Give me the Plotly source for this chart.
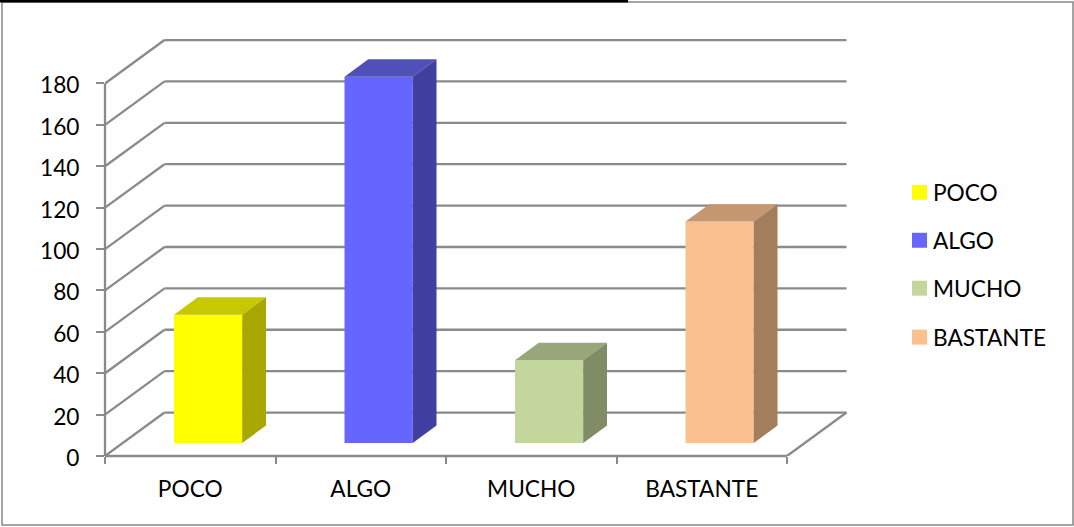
import plotly.graph_objects as go

categories = ["POCO", "ALGO", "MUCHO", "BASTANTE"]
values = [62, 177, 40, 107]
front_colors = ["#FFFF00", "#6666FF", "#C3D69B", "#FBC08F"]
top_colors = ["#C8C800", "#5050B8", "#98A679", "#C49672"]
side_colors = ["#A8A800", "#4040A0", "#7F8C65", "#A37D5C"]
y_ticks = list(range(0, 181, 20))

W, H = 1074, 527
L, R, T, B = 105, 850, 34, 456.5
PX_X = 170.5   # px per category
PX_Y = 2.072   # px per value unit
DX = 59.5 / PX_X   # full wall depth in x units
DY = 43.5 / PX_Y   # full wall depth in y units
D0, D1 = 0.3, 0.7  # bar depth span
BW = 0.4
GRID = "#8A8A8A"
GW = 2.3
FONT = "Lato"
FS = 22.7

# paper coordinates relative to the plot area
def paper_x(x): return (x - L) / (R - L)
def paper_y(y): return (B - y) / (B - T)
def val_x(x): return x * PX_X / (R - L)
def val_y(y): return y * PX_Y / (B - T)

fig = go.Figure()

# floor and back-wall gridlines go beneath the bars
shapes = []
n = len(categories)
for v in y_ticks:
    shapes.append(dict(type="line", xref="x", yref="y", layer="below",
                       x0=DX, y0=v + DY, x1=n + DX, y1=v + DY,
                       line=dict(color=GRID, width=GW)))
    shapes.append(dict(type="line", xref="x", yref="y", layer="below",
                       x0=0, y0=v, x1=DX, y1=v + DY,
                       line=dict(color=GRID, width=GW)))
shapes.append(dict(type="line", xref="x", yref="y", layer="below",
                   x0=n, y0=0, x1=n + DX, y1=DY,
                   line=dict(color=GRID, width=GW)))

# axis lines (paper refs so they are not clipped at the plot edge)
shapes.append(dict(type="line", xref="paper", yref="paper", layer="below",
                   x0=val_x(0), y0=val_y(0), x1=val_x(n), y1=val_y(0),
                   line=dict(color=GRID, width=GW)))
shapes.append(dict(type="line", xref="paper", yref="paper", layer="below",
                   x0=val_x(0), y0=val_y(0), x1=val_x(0), y1=val_y(180),
                   line=dict(color=GRID, width=GW)))

for i, (c, v) in enumerate(zip(categories, values)):
    cx = i + 0.5 + DX * D0
    x0, x1 = cx - BW / 2, cx + BW / 2
    base = DY * D0
    ddx = DX * (D1 - D0)
    ddy = DY * (D1 - D0)
    fig.add_trace(go.Bar(x=[cx], y=[v], base=[base], width=[BW], name=c,
                         marker=dict(color=front_colors[i], line=dict(width=0)),
                         showlegend=False))
    # top face
    fig.add_trace(go.Scatter(x=[x0, x1, x1 + ddx, x0 + ddx, x0],
                             y=[base + v, base + v, base + v + ddy, base + v + ddy, base + v],
                             mode="lines", fill="toself", fillcolor=top_colors[i],
                             line=dict(width=0), hoverinfo="skip", showlegend=False))
    # side face
    fig.add_trace(go.Scatter(x=[x1, x1 + ddx, x1 + ddx, x1, x1],
                             y=[base, base + ddy, base + v + ddy, base + v, base],
                             mode="lines", fill="toself", fillcolor=side_colors[i],
                             line=dict(width=0), hoverinfo="skip", showlegend=False))

# outer frame
shapes.append(dict(type="rect", xref="paper", yref="paper", layer="below",
                   x0=paper_x(2), x1=paper_x(1073), y0=paper_y(2), y1=paper_y(525.5),
                   line=dict(color="#868686", width=1.5)))
shapes.append(dict(type="line", xref="paper", yref="paper", layer="above",
                   x0=paper_x(0), x1=paper_x(628), y0=paper_y(1), y1=paper_y(1),
                   line=dict(color="#000000", width=3)))

# legend
annotations = []
legend_y = [192.5, 240.5, 288.5, 337.5]
for c, col, ly in zip(categories, front_colors, legend_y):
    shapes.append(dict(type="rect", xref="paper", yref="paper",
                       x0=paper_x(912), x1=paper_x(927), y0=paper_y(ly - 7.5), y1=paper_y(ly + 7.5),
                       fillcolor=col, line=dict(width=0)))
    annotations.append(dict(xref="paper", yref="paper", x=paper_x(931.5), y=paper_y(ly),
                            text=c, showarrow=False, xanchor="left", yanchor="middle",
                            font=dict(family=FONT, size=FS, color="#000000")))

fig.update_layout(
    width=W, height=H, autosize=False,
    margin=dict(l=L, r=W - R, t=T, b=H - B, pad=0),
    paper_bgcolor="#FFFFFF", plot_bgcolor="rgba(0,0,0,0)",
    showlegend=False, shapes=shapes, annotations=annotations, barmode="overlay",
    font=dict(family=FONT, size=FS, color="#000000"),
    xaxis=dict(range=[0, (R - L) / PX_X], showgrid=False, zeroline=False, showline=False,
               tickmode="array", tickvals=[i + 0.5 for i in range(n)], ticktext=categories,
               ticks="outside", ticklen=0, ticklabelstandoff=13,
               minor=dict(tickmode="array", tickvals=list(range(n + 1)), ticks="outside",
                          ticklen=7, tickwidth=2, tickcolor=GRID, showgrid=False)),
    yaxis=dict(range=[0, (B - T) / PX_Y], showgrid=False, zeroline=False, showline=False,
               tickmode="array", tickvals=y_ticks, ticks="outside", ticklen=8, tickwidth=2,
               tickcolor=GRID, ticklabelstandoff=12, ticklabelshift=2),
)

fig.write_html("out.html", config={"displayModeBar": False},
               post_script="document.body.style.margin='0';document.body.style.overflow='hidden';")
